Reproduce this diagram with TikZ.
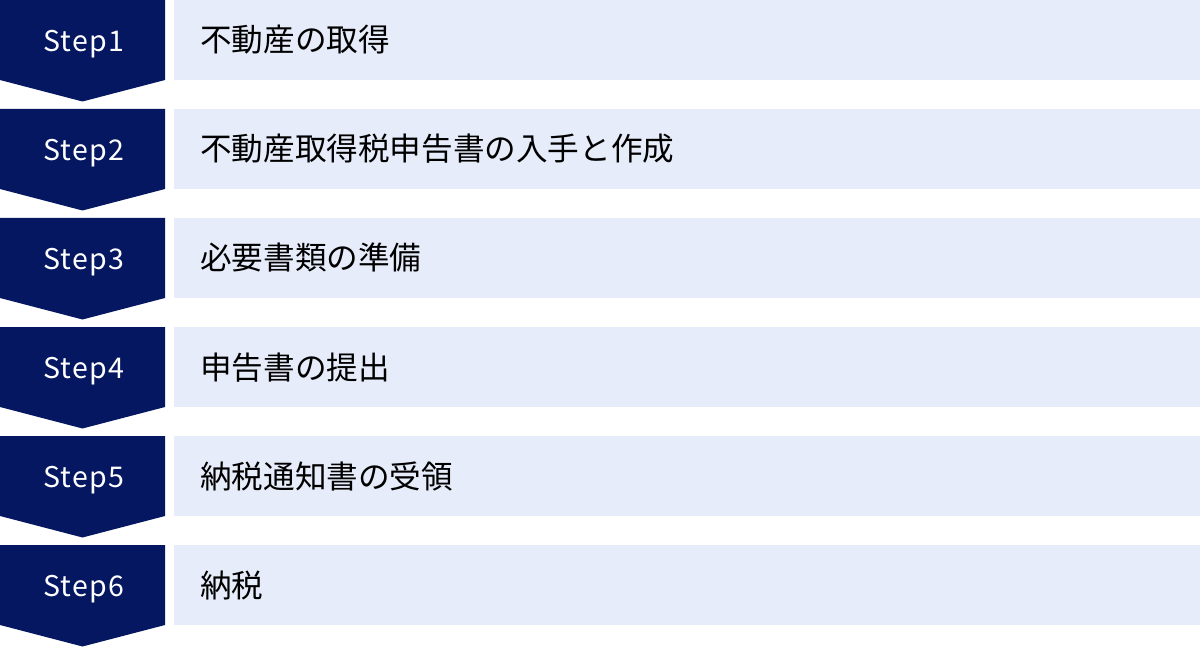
\documentclass[tikz,border=0pt]{standalone}
\usepackage{fontspec}
\setmainfont{Noto Sans CJK JP}
\newfontfamily\stepfont[LetterSpace=5]{Noto Sans CJK JP}
\definecolor{navy}{RGB}{4,23,96}
\definecolor{lightbg}{RGB}{230,236,249}
\tikzset{
  stepshape/.style={fill=navy,draw=none},
  bar/.style={fill=lightbg,draw=none},
  steplabel/.style={text=white,inner sep=0pt,anchor=base,font=\stepfont\fontsize{28.5pt}{30pt}\selectfont},
  tasklabel/.style={text=black,anchor=base west,inner sep=0pt,font=\fontsize{31.6pt}{34pt}\selectfont},
}
\begin{document}
\begin{tikzpicture}[x=1pt,y=-1pt]
\useasboundingbox (0,0) rectangle (1200,647);
\foreach \i/\t in {1/不動産の取得,2/不動産取得税申告書の入手と作成,3/必要書類の準備,4/申告書の提出,5/納税通知書の受領,6/納税}{
  \pgfmathsetmacro{\y}{(\i-1)*109}
  \fill[stepshape] (0,\y) -- (165,\y) -- (165,\y+80) -- (82.5,\y+101.5) -- (0,\y+80) -- cycle;
  \fill[bar] (174,\y) rectangle (1200,\y+80);
  \node[steplabel] (s\i) at (84,\y+51.3) {Step\i};
  \node[tasklabel] (t\i) at (200,\y+52) {\t};
}
\end{tikzpicture}
\end{document}
